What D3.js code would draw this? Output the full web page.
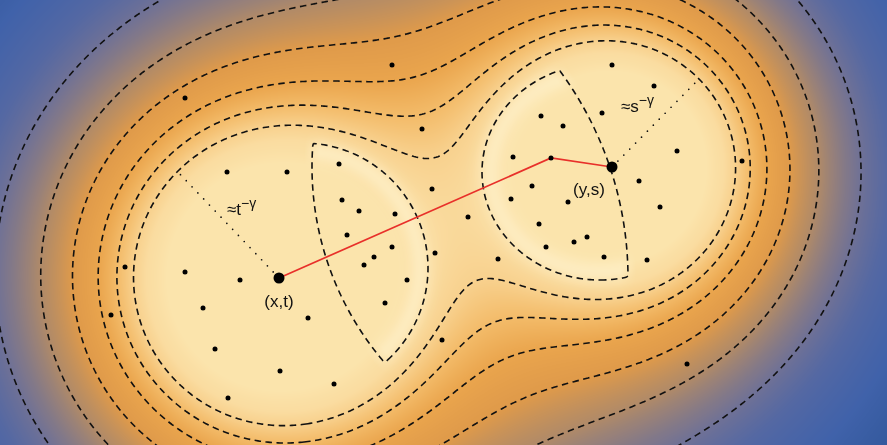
<!DOCTYPE html>
<html>
<head>
<meta charset="utf-8">
<script src="https://cdn.jsdelivr.net/npm/d3@7"></script>
<style>
  body { margin: 0; background: #fff; overflow: hidden; }
  #wrap { position: relative; width: 887px; height: 445px; }
  #wrap canvas, #wrap svg { position: absolute; left: 0; top: 0; }
</style>
</head>
<body>
<div id="wrap"></div>
<script>
var W = 887, H = 445;

// the two marked vertices and the scale of their balls
var vertexLabels = ["(x,t)", "(y,s)"];
var vertexX = [279, 612];
var vertexY = [278, 167];
var ballScale = [141, 117];
var decay = 1.8;

// one point on each dashed level line (left of (x,t)), outermost last
var levelAnchorX = [145, 127, 107, 80, 47, 2];
var levelAnchorY = [220, 220, 220, 220, 220, 210];

// the two lens cells: own ball (ellipse) cut by a disc around the other vertex
var lensBallX = [303, 600];
var lensBallY = [268, 172];
var lensBallRX = [125, 118];
var lensBallRY = [125, 108];
var lensReach = [300, 349];   // radius of the disc around the other vertex

// radius markers
var radiusEndX = [177, 698];
var radiusEndY = [171, 80];
var radiusLabels = ["t", "s"];

// red path (x,t) -> z -> (y,s)
var pathX = [279, 551, 612];
var pathY = [278, 158, 167];

// other points of the process
var dotX = [392, 185, 422, 612, 654, 602, 541, 563, 227, 287, 339, 513, 551, 432, 677, 742,
            639, 532, 511, 568, 342, 359, 395, 468, 539, 660, 347, 392, 374, 435, 364, 407,
            385, 308, 442, 546, 574, 587, 604, 647, 498, 125, 111, 185, 240, 203, 215, 280,
            228, 334, 687];
var dotY = [65, 98, 129, 65, 86, 113, 116, 126, 172, 172, 164, 157, 158, 189, 151, 161,
            181, 186, 199, 202, 200, 211, 214, 217, 224, 207, 235, 247, 257, 253, 265, 280,
            303, 318, 340, 247, 242, 237, 257, 260, 259, 267, 315, 272, 280, 308, 349, 371,
            398, 384, 364];

var x = d3.scaleLinear().domain([0, 887]).range([0, W]);
var y = d3.scaleLinear().domain([0, 445]).range([0, H]);

function field(px, py) {
  var v = 0;
  for (var k = 0; k < 2; k++) {
    var r = Math.hypot(px - vertexX[k], py - vertexY[k]) / ballScale[k];
    v += Math.pow(Math.max(r, 0.05), -decay);
  }
  return v;
}

function ballDepth(k, px, py) {
  var e = Math.hypot((px - lensBallX[k]) / lensBallRX[k], (py - lensBallY[k]) / lensBallRY[k]);
  return (1 - e) * lensBallRY[k];
}
function reachDepth(k, px, py) {
  var other = 1 - k;
  return lensReach[k] - Math.hypot(px - vertexX[other], py - vertexY[other]);
}

var levels = levelAnchorX.map(function(ax, i) { return field(ax, levelAnchorY[i]); });

// background shading
var colorScale = d3.scaleLinear()
  .domain([0.17, 0.22, 0.28, levels[5], levels[4], levels[3], levels[2], levels[1], levels[0], 1.2, 1.6])
  .range(["#31579a", "#4062aa", "#5468a3", "#6f7196", "#b08a68", "#df9a4a", "#eaa54d",
          "#f3bb69", "#f8d18e", "#fadca0", "#fbe4ac"])
  .clamp(true);

var lutN = 1024, lutMin = 0.1, lutMax = 1.8;
var lut = d3.range(lutN).map(function(k) {
  return d3.rgb(colorScale(lutMin + k * (lutMax - lutMin) / (lutN - 1)));
});
var glowColor = d3.rgb("#fff3cf");

var canvas = d3.select("#wrap").append("canvas").attr("width", W).attr("height", H).node();
var ctx = canvas.getContext("2d");
var img = ctx.createImageData(W, H);
for (var j = 0; j < H; j++) {
  for (var i = 0; i < W; i++) {
    var px = x.invert(i + 0.5), py = y.invert(j + 0.5);
    var v = field(px, py);
    var k = Math.round((v - lutMin) / (lutMax - lutMin) * (lutN - 1));
    var c = lut[Math.max(0, Math.min(lutN - 1, k))];
    // pale band just inside each lens along its own ball
    var g = 0;
    for (var q = 0; q < 2; q++) {
      var rd = reachDepth(q, px, py);
      if (rd > -8) {
        var d = ballDepth(q, px, py);
        g = Math.max(g, Math.exp(-Math.pow((d - 8) / 11, 2)) * Math.min(1, (rd + 8) / 16));
      }
    }
    g *= 0.6;
    var o = (j * W + i) * 4;
    img.data[o] = c.r + (glowColor.r - c.r) * g;
    img.data[o + 1] = c.g + (glowColor.g - c.g) * g;
    img.data[o + 2] = c.b + (glowColor.b - c.b) * g;
    img.data[o + 3] = 255;
  }
}
ctx.putImageData(img, 0, 0);

var svg = d3.select("#wrap").append("svg").attr("width", W).attr("height", H);

// grid for contours, padded beyond the frame
var step = 2, gx0 = -60, gy0 = -60;
var nx = Math.ceil((887 + 120) / step), ny = Math.ceil((445 + 120) / step);
function gridValues(fn) {
  var vals = new Float64Array(nx * ny);
  for (var j = 0; j < ny; j++)
    for (var i = 0; i < nx; i++)
      vals[j * nx + i] = fn(gx0 + i * step, gy0 + j * step);
  return vals;
}
var gridPath = d3.geoPath(d3.geoTransform({
  point: function(gx, gy) {
    this.stream.point(x(gx0 + (gx - 0.5) * step), y(gy0 + (gy - 0.5) * step));
  }
}));

var dash = "6.5,4.5";

svg.append("g")
  .selectAll("path")
  .data(d3.contours().size([nx, ny]).thresholds(levels)(gridValues(field)))
  .enter()
  .append("path")
  .attr("d", gridPath)
  .attr("fill", "none")
  .attr("stroke", "#111")
  .attr("stroke-width", 1.6)
  .attr("stroke-dasharray", dash);

// lens cells
[0, 1].forEach(function(k) {
  var lensField = function(px, py) {
    return Math.min(ballDepth(k, px, py), reachDepth(k, px, py));
  };
  svg.append("g")
    .selectAll("path")
    .data(d3.contours().size([nx, ny]).thresholds([0])(gridValues(lensField)))
    .enter()
    .append("path")
    .attr("d", gridPath)
    .attr("fill", "none")
    .attr("stroke", "#111")
    .attr("stroke-width", 1.6)
    .attr("stroke-dasharray", dash);
});

// dotted radius markers
svg.append("g")
  .selectAll("line")
  .data([0, 1])
  .enter()
  .append("line")
  .attr("x1", function(k) { return x(vertexX[k]); })
  .attr("y1", function(k) { return y(vertexY[k]); })
  .attr("x2", function(k) { return x(radiusEndX[k]); })
  .attr("y2", function(k) { return y(radiusEndY[k]); })
  .attr("stroke", "#111")
  .attr("stroke-width", 1.7)
  .attr("stroke-linecap", "round")
  .attr("stroke-dasharray", "0,8.4");

// red path
svg.append("path")
  .attr("d", d3.line().x(function(d) { return x(d[0]); }).y(function(d) { return y(d[1]); })(d3.zip(pathX, pathY)))
  .attr("fill", "none")
  .attr("stroke", "#e8302a")
  .attr("stroke-width", 1.7);

// points
svg.append("g")
  .selectAll("circle")
  .data(d3.zip(dotX, dotY))
  .enter()
  .append("circle")
  .attr("cx", function(d) { return x(d[0]); })
  .attr("cy", function(d) { return y(d[1]); })
  .attr("r", 2.5)
  .attr("fill", "#000");

svg.append("g")
  .selectAll("circle")
  .data([0, 1])
  .enter()
  .append("circle")
  .attr("cx", function(k) { return x(vertexX[k]); })
  .attr("cy", function(k) { return y(vertexY[k]); })
  .attr("r", 5.5)
  .attr("fill", "#000");

// labels
var font = "'Liberation Sans', Arial, sans-serif";
var labelDX = [0, -23], labelDY = [29, 28];
svg.append("g")
  .selectAll("text")
  .data([0, 1])
  .enter()
  .append("text")
  .attr("x", function(k) { return x(vertexX[k]) + labelDX[k]; })
  .attr("y", function(k) { return y(vertexY[k]) + labelDY[k]; })
  .attr("text-anchor", "middle")
  .attr("font-family", font)
  .attr("font-size", 17)
  .attr("fill", "#111")
  .text(function(k) { return vertexLabels[k]; });

var radLabelX = [227, 621], radLabelY = [215, 112];
var rl = svg.append("g")
  .selectAll("text")
  .data([0, 1])
  .enter()
  .append("text")
  .attr("x", function(k) { return radLabelX[k]; })
  .attr("y", function(k) { return radLabelY[k]; })
  .attr("font-family", font)
  .attr("font-size", 17)
  .attr("fill", "#111");
rl.append("tspan").text(function(k) { return "\u2248" + radiusLabels[k]; });
rl.append("tspan").attr("dy", -7).attr("font-size", 14).text("\u2212\u03b3");
</script>
</body>
</html>
